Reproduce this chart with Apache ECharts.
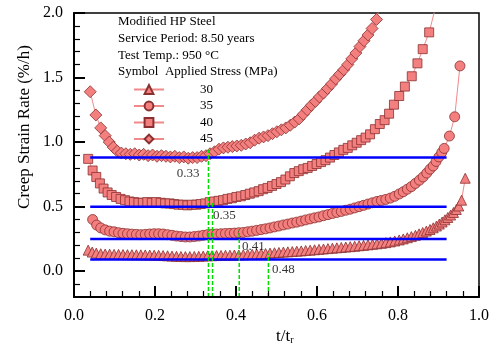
<!DOCTYPE html>
<html>
<head>
<meta charset="utf-8">
<script src="https://cdn.jsdelivr.net/npm/echarts@6/dist/echarts.min.js"></script>
<style>html,body{margin:0;padding:0;background:#fff}#c{width:496px;height:358px}</style>
</head>
<body>
<div id="c"></div>
<script>
// ---- data ----
const stressNames = ['30', '35', '40', '45'];

const t30 = [0.035,0.045,0.055,0.066,0.077,0.088,0.099,0.110,0.121,0.132,0.143,0.154,0.165,0.176,0.187,0.198,0.209,0.220,0.231,0.242,0.253,0.264,0.275,0.286,0.297,0.308,0.319,0.330,0.341,0.352,0.363,0.374,0.385,0.396,0.407,0.418,0.429,0.440,0.451,0.462,0.473,0.484,0.495,0.506,0.517,0.528,0.539,0.550,0.561,0.572,0.583,0.594,0.605,0.616,0.627,0.638,0.649,0.660,0.671,0.682,0.693,0.704,0.715,0.726,0.737,0.748,0.759,0.770,0.781,0.792,0.803,0.813,0.823,0.833,0.843,0.852,0.861,0.870,0.879,0.887,0.895,0.902,0.909,0.916,0.923,0.930,0.937,0.944,0.950,0.957,0.966];
const r30 = [0.163,0.148,0.140,0.135,0.133,0.132,0.130,0.130,0.129,0.128,0.128,0.127,0.127,0.126,0.125,0.124,0.123,0.121,0.119,0.117,0.115,0.114,0.113,0.113,0.114,0.115,0.117,0.119,0.120,0.121,0.122,0.123,0.124,0.125,0.125,0.127,0.129,0.131,0.133,0.135,0.137,0.140,0.143,0.145,0.148,0.150,0.152,0.155,0.157,0.160,0.163,0.166,0.169,0.172,0.175,0.178,0.181,0.184,0.187,0.190,0.193,0.197,0.200,0.204,0.208,0.212,0.216,0.221,0.227,0.234,0.242,0.250,0.259,0.268,0.278,0.289,0.300,0.311,0.323,0.336,0.350,0.365,0.381,0.398,0.416,0.435,0.455,0.478,0.505,0.550,0.720];

const t35 = [0.046,0.056,0.066,0.077,0.088,0.099,0.110,0.121,0.132,0.143,0.154,0.165,0.176,0.187,0.198,0.209,0.220,0.231,0.242,0.253,0.264,0.275,0.286,0.297,0.308,0.319,0.330,0.341,0.352,0.363,0.374,0.385,0.396,0.407,0.418,0.429,0.440,0.451,0.462,0.473,0.484,0.495,0.506,0.517,0.528,0.539,0.550,0.561,0.572,0.583,0.594,0.605,0.616,0.627,0.638,0.649,0.660,0.671,0.682,0.693,0.704,0.715,0.726,0.737,0.748,0.759,0.770,0.781,0.792,0.803,0.813,0.823,0.833,0.843,0.853,0.862,0.871,0.879,0.887,0.894,0.901,0.908,0.914,0.927,0.940,0.953];
const r35 = [0.400,0.357,0.335,0.320,0.310,0.305,0.298,0.293,0.290,0.287,0.285,0.283,0.285,0.288,0.290,0.290,0.288,0.283,0.278,0.272,0.268,0.265,0.265,0.268,0.272,0.278,0.283,0.286,0.288,0.290,0.292,0.293,0.295,0.298,0.300,0.305,0.310,0.316,0.322,0.328,0.335,0.343,0.350,0.358,0.365,0.373,0.380,0.388,0.397,0.405,0.413,0.420,0.430,0.438,0.447,0.455,0.463,0.472,0.480,0.490,0.500,0.510,0.520,0.530,0.540,0.548,0.556,0.566,0.580,0.598,0.615,0.635,0.655,0.680,0.705,0.730,0.760,0.790,0.815,0.850,0.885,0.920,0.951,1.047,1.196,1.590];

const t40 = [0.035,0.046,0.055,0.064,0.073,0.083,0.093,0.104,0.115,0.126,0.137,0.148,0.159,0.170,0.181,0.192,0.203,0.214,0.225,0.236,0.247,0.258,0.269,0.280,0.291,0.302,0.313,0.324,0.335,0.346,0.357,0.368,0.379,0.390,0.401,0.412,0.423,0.434,0.445,0.456,0.467,0.478,0.489,0.500,0.511,0.522,0.533,0.544,0.555,0.566,0.577,0.588,0.599,0.610,0.621,0.632,0.643,0.654,0.665,0.676,0.687,0.698,0.709,0.720,0.731,0.743,0.755,0.767,0.778,0.790,0.803,0.817,0.834,0.848,0.861,0.877,0.905];
const r40 = [0.870,0.780,0.730,0.680,0.640,0.610,0.590,0.575,0.560,0.550,0.540,0.535,0.530,0.530,0.535,0.530,0.535,0.530,0.525,0.525,0.520,0.515,0.515,0.510,0.515,0.515,0.520,0.525,0.535,0.540,0.545,0.550,0.560,0.565,0.575,0.580,0.590,0.600,0.610,0.620,0.635,0.645,0.660,0.675,0.690,0.710,0.735,0.760,0.775,0.790,0.800,0.815,0.830,0.845,0.860,0.880,0.900,0.920,0.940,0.955,0.975,0.995,1.015,1.035,1.060,1.100,1.140,1.170,1.220,1.290,1.357,1.430,1.510,1.610,1.720,1.850,2.200];

const t45 = [0.040,0.054,0.066,0.077,0.087,0.097,0.107,0.117,0.128,0.139,0.150,0.161,0.172,0.183,0.194,0.205,0.216,0.227,0.238,0.249,0.260,0.271,0.282,0.293,0.304,0.315,0.326,0.336,0.347,0.358,0.369,0.380,0.391,0.402,0.413,0.424,0.435,0.446,0.457,0.468,0.479,0.490,0.501,0.512,0.523,0.534,0.545,0.556,0.566,0.576,0.586,0.596,0.606,0.616,0.626,0.636,0.646,0.656,0.666,0.676,0.686,0.696,0.706,0.716,0.726,0.736,0.747,0.765];
const r45 = [1.390,1.210,1.110,1.050,1.000,0.960,0.930,0.915,0.910,0.905,0.910,0.900,0.905,0.895,0.900,0.890,0.895,0.890,0.885,0.890,0.880,0.885,0.875,0.880,0.880,0.890,0.895,0.910,0.925,0.945,0.955,0.960,0.965,0.970,0.975,0.985,0.995,1.015,1.030,1.040,1.050,1.065,1.080,1.095,1.110,1.130,1.155,1.180,1.215,1.250,1.285,1.315,1.350,1.380,1.415,1.450,1.490,1.525,1.560,1.600,1.645,1.690,1.740,1.785,1.830,1.880,1.950,2.200];

const blueLevels = [0.88, 0.50, 0.25, 0.09];
const blueStart = 0.04, blueEnd = 0.92;
const greenX = [0.332, 0.342, 0.408, 0.480];
const greenTop = [0.94, 0.54, 0.32, 0.137];
const greenLabels = ['0.33', '0.35', '0.41', '0.48'];
const greenLabelX = [0.254, 0.343, 0.415, 0.489];
const greenLabelY = [0.757, 0.429, 0.194, 0.016];

const yTicks = [0, 0.5, 1.0, 1.5, 2.0];
const yMinor = [-0.1, 0.1, 0.2, 0.3, 0.4, 0.6, 0.7, 0.8, 0.9, 1.1, 1.2, 1.3, 1.4, 1.6, 1.7, 1.8, 1.9];
const yMin = -0.2, yMax = 2.0;

const infoLines = ['Modified HP Steel', 'Service Period: 8.50 years', 'Test Temp.: 950 \u00B0C', 'Symbol  Applied Stress (MPa)'];

// ---- chart ----
const FONT = '"Liberation Serif", "Times New Roman", serif';
const fill = '#f47f7f', edge = '#8a3030', lineC = '#f08a8a';
const symbols = ['triangle', 'circle', 'rect', 'diamond'];
const symSizes = [10, 10, 9, 12];
const tArr = [t30, t35, t40, t45], rArr = [r30, r35, r40, r45];

const series = [];
blueLevels.forEach(v => series.push({
  type: 'line', data: [[blueStart, v], [blueEnd, v]], symbol: 'none', silent: true,
  lineStyle: { color: '#0000ff', width: 2.5 }, z: 3
}));
greenX.forEach((x, i) => series.push({
  type: 'line', data: [[x, yMin], [x, greenTop[i]]], symbol: 'none', silent: true,
  lineStyle: { color: '#00e000', width: 1.5, type: [4, 2] }, z: 4
}));
stressNames.forEach((n, i) => series.push({
  name: n, type: 'line', clip: true,
  data: tArr[i].map((t, j) => [t, rArr[i][j]]),
  symbol: symbols[i], symbolSize: symSizes[i], showAllSymbol: true,
  lineStyle: { color: lineC, width: 1 },
  itemStyle: { color: fill, borderColor: edge, borderWidth: 0.8 },
  z: 2
}));
series.push({
  type: 'scatter', symbolSize: 0, silent: true,
  data: greenLabels.map((s, i) => ({ value: [greenLabelX[i], greenLabelY[i]], name: s })),
  label: { show: true, position: 'right', distance: 0, formatter: p => p.name,
           fontFamily: FONT, fontSize: 13, color: '#000' },
  z: 5
});

const graphics = [];
const infoY = [23, 40, 57, 73];
infoLines.forEach((s, i) => graphics.push({
  type: 'text', left: 118, top: infoY[i] - 8,
  style: { text: s, font: '13px ' + FONT, fill: '#000' }
}));
graphics.push({
  type: 'text', x: 25, y: 127, rotation: Math.PI / 2,
  style: { text: 'Creep Strain Rate (%/h)', font: '17px ' + FONT, fill: '#000', textAlign: 'center', textVerticalAlign: 'middle' }
});
graphics.push({
  type: 'text', left: 276, top: 328,
  style: { text: '{a|t/t}{b|r}', fill: '#000',
    rich: { a: { fontFamily: FONT, fontSize: 17, verticalAlign: 'bottom' }, b: { fontFamily: FONT, fontSize: 10, padding: [8, 0, 0, 0], verticalAlign: 'bottom' } } }
});

const chart = echarts.init(document.getElementById('c'));
chart.setOption({
  animation: false,
  backgroundColor: '#fff',
  grid: { left: 74, right: 17, top: 13, bottom: 61, show: true, borderColor: '#000', borderWidth: 1.5 },
  legend: {
    data: stressNames, orient: 'vertical', left: 128, top: 78,
    itemWidth: 30, itemHeight: 11, itemGap: 3.5,
    textStyle: { fontFamily: FONT, fontSize: 13, lineHeight: 13, color: '#000', padding: [0, 0, 0, 31] },
    selectedMode: false
  },
  xAxis: {
    type: 'value', min: 0, max: 1, interval: 0.2, z: 10,
    axisLine: { show: true, onZero: false, lineStyle: { color: '#000', width: 2 } },
    axisTick: { show: true, inside: true, length: 11, lineStyle: { color: '#000', width: 2 } },
    minorTick: { show: true, splitNumber: 5, length: 6, lineStyle: { color: '#000', width: 1.2 } },
    axisLabel: { fontFamily: FONT, fontSize: 16, color: '#000', margin: 11, formatter: v => v.toFixed(1) },
    splitLine: { show: false }
  },
  yAxis: [{
    type: 'value', min: yMin, max: yMax, z: 10,
    axisLine: { show: true, onZero: false, lineStyle: { color: '#000', width: 2 } },
    axisTick: { show: true, inside: true, length: 11, customValues: yTicks, lineStyle: { color: '#000', width: 2 } },
    axisLabel: { fontFamily: FONT, fontSize: 16, color: '#000', margin: 11, customValues: yTicks, formatter: v => v.toFixed(1) },
    splitLine: { show: false }
  }, {
    type: 'value', min: yMin, max: yMax, position: 'left', z: 10,
    axisLine: { show: false, onZero: false },
    axisTick: { show: true, inside: true, length: 6, customValues: yMinor, lineStyle: { color: '#000', width: 1.2 } },
    axisLabel: { show: false },
    splitLine: { show: false }
  }],
  series: series,
  graphic: graphics
});
</script>
</body>
</html>
